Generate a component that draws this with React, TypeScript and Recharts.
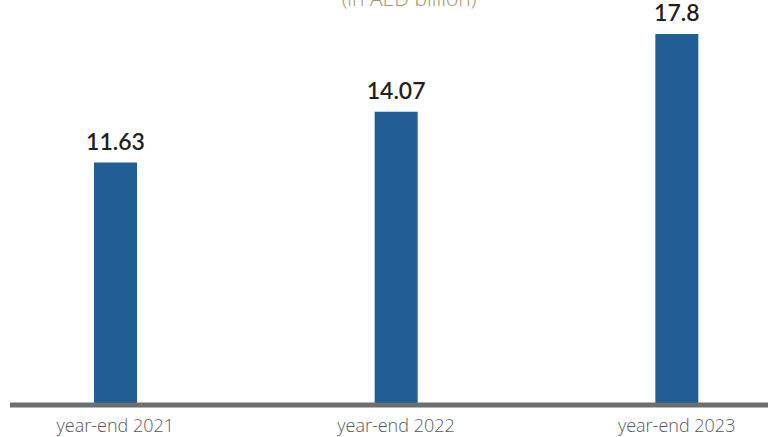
import React from 'react';
import { BarChart, Bar, XAxis, YAxis, LabelList } from 'recharts';

const periods = ['year-end 2021', 'year-end 2022', 'year-end 2023'];
const values = [11.63, 14.07, 17.8];
const unitNote = '(in AED billion)';

const data = periods.map((name, i) => ({ name, value: values[i] }));

const App: React.FC = () => {
  return (
    <div
      style={{
        position: 'absolute',
        left: 0,
        top: 0,
        width: 768,
        height: 437,
        overflow: 'hidden',
        background: '#ffffff',
        fontFamily: 'Lato, sans-serif'
      }}
    >
      <div
        style={{
          position: 'absolute',
          left: 0,
          width: 818,
          top: -16,
          textAlign: 'center',
          fontSize: 21,
          color: '#a8916b',
          fontWeight: 300,
          fontFamily: '"Open Sans", sans-serif'
        }}
      >
        {unitNote}
      </div>
      <BarChart
        width={768}
        height={437}
        data={data}
        margin={{ top: 9, right: 0, left: 10, bottom: 0 }}
      >
        <XAxis
          dataKey="name"
          height={32}
          padding={{ left: -35, right: -49 }}
          axisLine={{ stroke: '#6d6e71', strokeWidth: 5 }}
          tickLine={false}
          tickMargin={8}
          tick={{ fontSize: 18, fill: '#58595b', fontFamily: '"Open Sans", sans-serif', fontWeight: 300 }}
        />
        <YAxis hide domain={[0, 19]} />
        <Bar dataKey="value" fill="#225e96" barSize={43} isAnimationActive={false}>
          <LabelList
            dataKey="value"
            position="top"
            offset={13}
            style={{ fontSize: 23, fontWeight: 600, fill: '#231f20' }}
          />
        </Bar>
      </BarChart>
    </div>
  );
};

export default App;
